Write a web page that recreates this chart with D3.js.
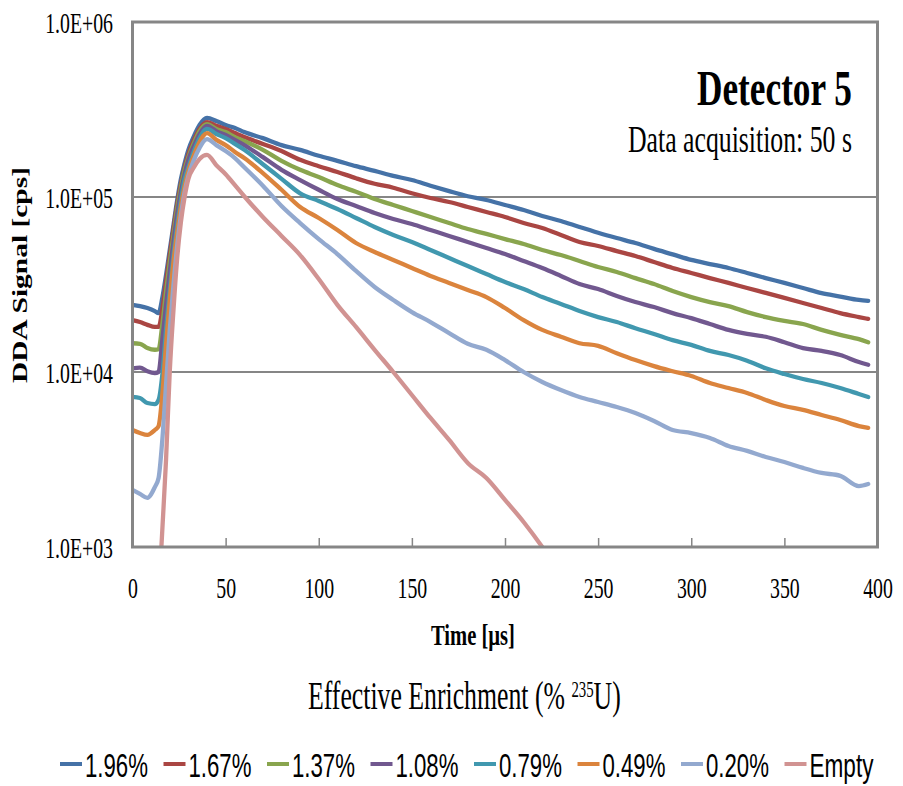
<!DOCTYPE html>
<html>
<head>
<meta charset="utf-8">
<script src="https://cdn.jsdelivr.net/npm/d3@7"></script>
<style>
  html, body { margin: 0; padding: 0; background: #fff; }
  svg { display: block; }
</style>
</head>
<body>
<svg id="chart" width="903" height="786"></svg>
<script>
// ---- data -------------------------------------------------------------
const timeUs = [0, 4, 8, 12, 14, 16, 18, 20, 22, 24, 26, 28, 30, 33, 36, 40, 45, 50, 55, 60,
  70, 80, 90, 100, 110, 120, 130, 140, 150, 160, 170, 180, 190, 200, 210, 220, 230, 240, 250, 260,
  270, 280, 290, 300, 310, 320, 330, 340, 350, 360, 370, 380, 390, 395];

const seriesNames = ["1.96%", "1.67%", "1.37%", "1.08%", "0.79%", "0.49%", "0.20%", "Empty"];
const seriesColors = ["#4572A7", "#AA4643", "#89A54E", "#71588F", "#4198AF", "#DB843D", "#93A9CF", "#D19392"];

const enr196 = [24200, 23800, 23200, 22300, 21700, 26500, 35800, 49800, 69200, 96100,
  127000, 156000, 186000, 223000, 258000, 283000, 272000, 258000, 248000, 235000,
  217000, 198000, 186000, 172000, 161000, 150000, 141000, 132000, 125000, 116000,
  108000, 101000, 96100, 90000, 84300, 77900, 72900, 67400, 62500, 58300,
  54600, 50500, 47000, 43700, 41400, 39300, 36800, 34400, 32300, 30200,
  28200, 27000, 25800, 25500];
const enr167 = [19800, 19300, 18600, 18100, 18100, 22600, 32700, 46600, 65600, 91200,
  119000, 148000, 176000, 212000, 245000, 268000, 255000, 245000, 232000, 220000,
  201000, 183000, 163000, 150000, 139000, 128000, 119000, 113000, 105000, 98700,
  93600, 87700, 82100, 76900, 71000, 66500, 60700, 55300, 52500, 49100,
  46000, 42500, 39300, 36800, 34400, 32300, 30200, 28300, 26500, 24800,
  23200, 21700, 20600, 20100];
const enr137 = [14600, 14500, 13700, 13400, 13500, 18600, 28700, 42500, 60700, 86500,
  114000, 143000, 169000, 204000, 238000, 261000, 245000, 235000, 220000, 209000,
  186000, 161000, 143000, 130000, 117000, 107000, 97400, 90000, 83200, 76900,
  71000, 65600, 61500, 57500, 53900, 49800, 46600, 43100, 39800, 37300,
  34400, 31800, 29000, 26800, 25100, 23800, 22000, 20600, 19600, 18800,
  17400, 16300, 15400, 14800];
const enr108 = [10500, 10600, 10100, 9870, 10000, 15200, 24200, 37300, 55300, 80000,
  107000, 135000, 163000, 196000, 229000, 255000, 238000, 226000, 212000, 198000,
  169000, 143000, 125000, 110000, 97400, 88800, 81000, 74900, 70100, 64800,
  59900, 55300, 51100, 47200, 43100, 39300, 35400, 31800, 29800, 27200,
  25100, 23500, 21700, 20300, 18800, 17400, 16500, 15900, 14800, 13700,
  13200, 12500, 11400, 11000];
const enr079 = [7200, 7100, 6650, 6560, 6920, 9610, 17400, 29400, 46600, 69200,
  96100, 127000, 148000, 183000, 217000, 245000, 229000, 217000, 201000, 186000,
  154000, 127000, 105000, 94900, 85400, 75900, 67400, 60700, 55300, 49800,
  44800, 40300, 36300, 32700, 29800, 26800, 24500, 22300, 20600, 19300,
  17800, 16500, 15200, 14300, 13200, 12500, 11600, 10500, 9740, 9120,
  8650, 8100, 7490, 7200];
const enr049 = [4660, 4480, 4370, 4660, 4910, 7390, 14300, 25800, 42500, 63100,
  88800, 116000, 141000, 174000, 206000, 232000, 212000, 198000, 181000, 167000,
  137000, 110000, 87700, 75900, 64800, 54600, 48500, 43700, 39300, 35400,
  32300, 29400, 26800, 23200, 19800, 17400, 15900, 14600, 14100, 12800,
  11700, 10800, 10100, 9490, 8650, 8100, 7590, 6920, 6390, 6070,
  5680, 5320, 4910, 4790];
const enr020 = [2120, 2010, 1910, 2200, 2480, 4090, 8430, 17400, 31400, 53200,
  78900, 107000, 132000, 163000, 191000, 214000, 198000, 183000, 167000, 148000,
  116000, 88800, 71000, 57500, 47200, 37800, 30600, 25800, 22000, 19300,
  16700, 14500, 13400, 11700, 10000, 8770, 7890, 7200, 6740, 6310,
  5830, 5250, 4660, 4480, 4200, 3780, 3540, 3270, 3060, 2830,
  2650, 2550, 2230, 2290];
const enrEmpty = [null, null, null, null, 500, 1250, 3140, 10000, 22600, 44800,
  72000, 100000, 127000, 148000, 165000, 174000, 152000, 135000, 117000, 101000,
  76900, 59900, 46600, 34000, 24200, 18100, 13400, 10000, 7390, 5460,
  4090, 3020, 2480, 1860, 1390, 1000, 692, null, null, null,
  null, null, null, null, null, null, null, null, null, null,
  null, null, null, null];

const seriesValues = [enr196, enr167, enr137, enr108, enr079, enr049, enr020, enrEmpty];

const xTickValues = [0, 50, 100, 150, 200, 250, 300, 350, 400];
const yTickValues = [1e3, 1e4, 1e5, 1e6];
const yTickLabels = ["1.0E+03", "1.0E+04", "1.0E+05", "1.0E+06"];
const yGridValues = [1e4, 1e5];

// ---- layout -----------------------------------------------------------
const SERIF = "'Liberation Serif', 'DejaVu Serif', serif";
const SANS = "'Liberation Sans Narrow', 'Liberation Sans', Arial, sans-serif";
const AXIS_GREY = "#868686";
const plot = { left: 132.5, right: 877.5, top: 22, bottom: 547 };
const squeeze = 0.66; // horizontal condensing of the typeface

const svg = d3.select("#chart");
const x = d3.scaleLinear().domain([0, 400]).range([plot.left, plot.right]);
const y = d3.scaleLog().domain([1e3, 1e6]).range([plot.bottom, plot.top]);

// Text placed so that it spans a given width (condensed face)
function fitText(parent, o) {
  const g = parent.append("g");
  const t = g.append("text")
    .attr("font-family", o.family || SERIF)
    .attr("font-size", o.size)
    .attr("font-weight", o.weight || "normal")
    .attr("fill", "#000");
  (o.parts || [{ text: o.text }]).forEach(p => {
    const ts = t.append("tspan").text(p.text);
    if (p.size) ts.attr("font-size", p.size);
    if (p.dy) ts.attr("dy", p.dy);
  });
  const natural = t.node().getComputedTextLength();
  const k = o.width ? o.width / natural : o.scale;
  const w = natural * k;
  const x0 = o.anchor === "end" ? o.x - w : o.anchor === "middle" ? o.x - w / 2 : o.x;
  g.attr("transform", `translate(${x0},${o.y}) scale(${k},1)`);
  return g;
}

// ---- plot background & grid --------------------------------------------
svg.append("rect").attr("width", 903).attr("height", 786).attr("fill", "#fff");

svg.append("g").selectAll("line").data(yGridValues).join("line")
  .attr("x1", plot.left).attr("x2", plot.right)
  .attr("y1", d => y(d)).attr("y2", d => y(d))
  .attr("stroke", AXIS_GREY).attr("stroke-width", 2);

// ---- series -------------------------------------------------------------
svg.append("clipPath").attr("id", "plotClip").append("rect")
  .attr("x", plot.left).attr("y", plot.top)
  .attr("width", plot.right - plot.left).attr("height", plot.bottom - plot.top);

const line = d3.line()
  .defined(d => d.v != null)
  .x(d => x(d.t))
  .y(d => y(d.v))
  .curve(d3.curveMonotoneX);

svg.append("g").attr("clip-path", "url(#plotClip)")
  .selectAll("path").data(seriesValues).join("path")
  .attr("d", vals => line(vals.map((v, i) => ({ t: timeUs[i], v }))))
  .attr("fill", "none")
  .attr("stroke", (d, i) => seriesColors[i])
  .attr("stroke-width", 4.3)
  .attr("stroke-linejoin", "round")
  .attr("stroke-linecap", "round");

// ---- axes ---------------------------------------------------------------
const xAxis = svg.append("g")
  .attr("transform", `translate(0,${plot.bottom})`)
  .call(d3.axisBottom(x).tickValues(xTickValues).tickSizeInner(-9).tickSizeOuter(0));
xAxis.select(".domain").remove();
xAxis.selectAll(".tick line").attr("stroke", AXIS_GREY).attr("stroke-width", 1.5);
xAxis.selectAll(".tick text")
  .attr("y", 51).attr("dy", 0)
  .attr("font-family", SERIF).attr("font-size", 30).attr("fill", "#000")
  .attr("transform", `scale(${squeeze},1)`);

const yAxis = svg.append("g")
  .attr("transform", `translate(${plot.left},0)`)
  .call(d3.axisLeft(y).tickValues(yTickValues)
    .tickFormat((d, i) => yTickLabels[i]).tickSize(0));
yAxis.select(".domain").remove();
yAxis.selectAll(".tick text")
  .attr("x", -19.5 / squeeze).attr("dy", "0.36em")
  .attr("font-family", SERIF).attr("font-size", 30).attr("fill", "#000")
  .attr("transform", `scale(${squeeze},1)`);

// plot frame
svg.append("rect")
  .attr("x", plot.left).attr("y", plot.top)
  .attr("width", plot.right - plot.left).attr("height", plot.bottom - plot.top)
  .attr("fill", "none").attr("stroke", AXIS_GREY).attr("stroke-width", 3);

// ---- titles -------------------------------------------------------------
svg.append("g")
  .attr("transform", "translate(20,275) scale(0.72,1) rotate(-90)")
  .append("text")
  .attr("text-anchor", "middle")
  .attr("y", 9.5)
  .attr("font-family", SERIF).attr("font-size", 29).attr("font-weight", "bold")
  .attr("textLength", 216).attr("lengthAdjust", "spacingAndGlyphs")
  .text("DDA Signal [cps]");

fitText(svg, { text: "Time [µs]", x: 473, y: 645, width: 84, anchor: "middle", size: 30, weight: "bold" });
fitText(svg, { text: "Detector 5", x: 852, y: 105, width: 155, anchor: "end", size: 50, weight: "bold" });
fitText(svg, { text: "Data acquisition: 50 s", x: 852, y: 152, width: 224, anchor: "end", size: 38 });

fitText(svg, {
  parts: [
    { text: "Effective Enrichment (% " },
    { text: "235", size: 23, dy: -12 },
    { text: "U)", size: 40, dy: 12 }
  ],
  x: 308, y: 709, width: 313, anchor: "start", size: 40
});

// ---- legend -------------------------------------------------------------
const legendStart = 60, legendStep = 103.5, legendY = 764;
const legend = svg.append("g");
seriesNames.forEach((name, i) => {
  const lx = legendStart + i * legendStep;
  legend.append("line")
    .attr("x1", lx).attr("x2", lx + 22)
    .attr("y1", legendY).attr("y2", legendY)
    .attr("stroke", seriesColors[i]).attr("stroke-width", 4);
  fitText(legend, {
    text: name, x: lx + 25, y: 777, width: name === "Empty" ? 64 : 63,
    anchor: "start", size: 34, family: SANS
  });
});
</script>
</body>
</html>
